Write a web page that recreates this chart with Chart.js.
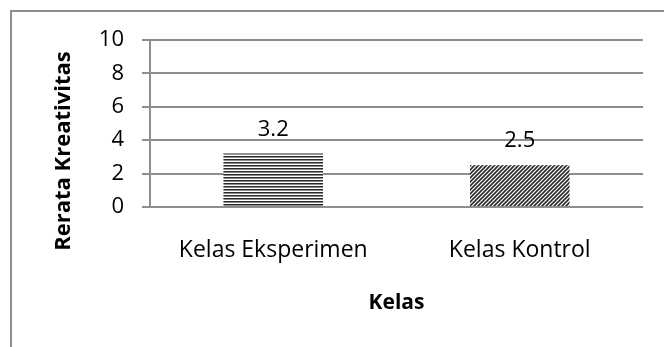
<!DOCTYPE html>
<html>
<head>
<meta charset="utf-8">
<script src="https://cdn.jsdelivr.net/npm/chart.js@4.4.1/dist/chart.umd.min.js"></script>
<style>
    html, body { margin: 0; padding: 0; background: #fff; }
    #wrap { position: relative; width: 664px; height: 347px; overflow: hidden; }
    #frame { position: absolute; left: 10px; top: 10px; width: 700px; height: 400px; border: 2px solid #8e8e8e; }
    #chart { position: absolute; left: 0; top: 0; }
</style>
</head>
<body>
<div id="wrap">
    <div id="frame"></div>
    <canvas id="chart" width="664" height="347"></canvas>
</div>
<script>
// ============ DATA ============
const categories = ['Kelas Eksperimen', 'Kelas Kontrol'];
const rerata = [3.2, 2.5];
const yTicks = [0, 2, 4, 6, 8, 10];

const FONT = 'Open Sans';
const GRID = '#8e8e8e';

// hatch fills like the old office patterns
function stripesPattern() {
    const c = document.createElement('canvas');
    c.width = 4; c.height = 3;
    const g = c.getContext('2d');
    g.fillStyle = '#fff'; g.fillRect(0, 0, 4, 3);
    g.fillStyle = '#2a2a2a'; g.fillRect(0, 0, 4, 1);
    g.fillStyle = '#8a8a8a'; g.fillRect(0, 1, 4, 1);
    return g.createPattern(c, 'repeat');
}

function diagPattern() {
    const c = document.createElement('canvas');
    c.width = 4; c.height = 4;
    const g = c.getContext('2d');
    g.fillStyle = '#fff'; g.fillRect(0, 0, 4, 4);
    g.strokeStyle = '#2a2a2a';
    g.lineWidth = 1.6;
    g.beginPath();
    g.moveTo(-1, 5); g.lineTo(5, -1);
    g.moveTo(-3, 3); g.lineTo(3, -3);
    g.moveTo(1, 7); g.lineTo(7, 1);
    g.stroke();
    return g.createPattern(c, 'repeat');
}

// value labels above bars + rotated y title
const extras = {
    id: 'extras',
    afterDatasetsDraw(chart) {
        const ctx = chart.ctx;
        ctx.save();
        ctx.fillStyle = '#000';
        ctx.font = '22px ' + FONT;
        ctx.textAlign = 'center';
        ctx.textBaseline = 'alphabetic';
        chart.getDatasetMeta(0).data.forEach((bar, i) => {
            ctx.fillText(String(rerata[i]), bar.x, bar.y - 18);
        });
        ctx.translate(64, 151);
        ctx.rotate(-Math.PI / 2);
        ctx.font = 'bold 22px ' + FONT;
        ctx.textBaseline = 'middle';
        ctx.fillText('Rerata Kreativitas', 0, 0);
        ctx.restore();
    }
};

const ctx = document.getElementById('chart');
new Chart(ctx, {
    type: 'bar',
    data: {
        labels: categories,
        datasets: [{
            data: rerata,
            backgroundColor: [stripesPattern(), diagPattern()],
            borderWidth: 0,
            barPercentage: 1,
            categoryPercentage: 0.404,
        }]
    },
    options: {
        responsive: false,
        animation: false,
        layout: { padding: { left: 0, top: 40, right: 21, bottom: 0 } },
        plugins: { legend: { display: false }, tooltip: { enabled: false } },
        scales: {
            x: {
                grid: { display: false },
                border: { display: false },
                ticks: { color: '#000', padding: 22, font: { family: FONT, size: 23 } },
                title: {
                    display: true,
                    text: 'Kelas',
                    color: '#000',
                    font: { family: FONT, size: 21, weight: 'bold' },
                    padding: { top: 0, bottom: 31 }
                },
                afterFit(scale) { scale.height = 140; }
            },
            y: {
                min: 0,
                max: 10,
                afterBuildTicks(scale) { scale.ticks = yTicks.map(v => ({ value: v })); },
                grid: { color: GRID, lineWidth: 2, tickLength: 8 },
                border: { color: GRID, width: 2 },
                ticks: { color: '#000', padding: 18, font: { family: FONT, size: 22 } },
                afterFit(scale) { scale.width = 150; }
            }
        }
    },
    plugins: [extras]
});
</script>
</body>
</html>
